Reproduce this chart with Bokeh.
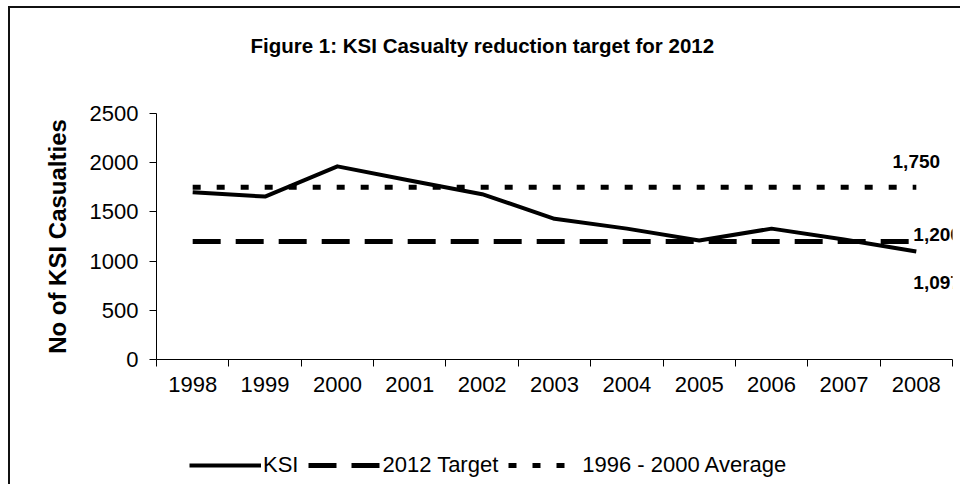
from bokeh.plotting import figure
from bokeh.layouts import column
from bokeh.models import Range1d, FixedTicker, Legend, LegendItem, Label
from bokeh.embed import file_html
from bokeh.resources import INLINE
from bokeh.core.properties import value

# ---- data ----
years = ["1998", "1999", "2000", "2001", "2002", "2003", "2004", "2005", "2006", "2007", "2008"]
ksi = [1700, 1656, 1963, 1820, 1680, 1430, 1330, 1210, 1330, 1220, 1097]
target_2012 = [1200, 1200, 1200, 1200, 1200, 1200, 1200, 1200, 1200, 1200, 1200]
avg_1996_2000 = [1750, 1750, 1750, 1750, 1750, 1750, 1750, 1750, 1750, 1750, 1750]
y_ticks = [0, 500, 1000, 1500, 2000, 2500]
title_text = "Figure 1: KSI Casualty reduction target for 2012"
y_label = "No of KSI Casualties"
series_names = ["KSI", "2012 Target", "1996 - 2000 Average"]

FONT = "Liberation Sans"
xs = [i + 0.5 for i in range(len(years))]
boundaries = [i for i in range(len(years) + 1)]

# styles of the three series (shared by chart and legend)
ksi_style = dict(line_color="black", line_width=4, line_join="round")
tgt_style = dict(line_color="black", line_width=5, line_dash="28 15")
avg_style = dict(line_color="black", line_width=5, line_dash="8 16")


def strip(height, styles):
    f = figure(width=952, height=height, x_range=Range1d(0, 1), y_range=Range1d(0, 1),
               x_axis_type=None, y_axis_type=None,
               output_backend="svg", toolbar_location=None,
               min_border_left=0, min_border_right=0, min_border_top=0, min_border_bottom=0)
    f.outline_line_color = None
    f.xgrid.visible = False
    f.ygrid.visible = False
    f.background_fill_color = "white"
    f.border_fill_color = "white"
    f.styles = styles
    return f


# ---- title strip ----
tf = strip(70, {"border-left": "2px solid #111", "border-top": "2px solid #111"})
tf.add_layout(Label(x=94, y=33, x_units="screen", y_units="screen", text=title_text,
                    text_align="left", text_baseline="middle", text_font=FONT,
                    text_font_size="20.5px", text_font_style="bold", text_color="black"))

# ---- main chart ----
p = figure(width=952, height=342,
           x_range=Range1d(0, len(years)), y_range=Range1d(0, 2500),
           output_backend="svg", toolbar_location=None,
           min_border_left=146, min_border_right=10,
           min_border_top=37, min_border_bottom=59)
p.outline_line_color = None
p.xgrid.visible = False
p.ygrid.visible = False
p.background_fill_color = "white"
p.border_fill_color = "white"
p.styles = {"border-left": "2px solid #111"}

# x axis: labels at category centres, tick marks at boundaries
xa = p.xaxis[0]
xa.ticker = FixedTicker(ticks=xs, minor_ticks=boundaries)
xa.major_label_overrides = {x: y for x, y in zip(xs, years)}
xa.major_tick_line_color = None
xa.minor_tick_line_color = "black"
xa.minor_tick_in = 0
xa.minor_tick_out = 7
xa.axis_line_color = "black"
xa.major_label_text_font = FONT
xa.major_label_text_font_size = "22px"
xa.major_label_text_color = "black"
xa.major_label_standoff = 10

ya = p.yaxis[0]
ya.ticker = FixedTicker(ticks=y_ticks, minor_ticks=[])
ya.major_tick_in = 0
ya.major_tick_out = 7
ya.major_tick_line_color = "black"
ya.axis_line_color = "black"
ya.major_label_text_font = FONT
ya.major_label_text_font_size = "22px"
ya.major_label_text_color = "black"
ya.major_label_standoff = 11
ya.axis_label = y_label
ya.axis_label_text_font = FONT
ya.axis_label_text_font_size = "24px"
ya.axis_label_text_font_style = "bold"
ya.axis_label_text_color = "black"
ya.axis_label_standoff = 16

p.line(xs, ksi, **ksi_style)
p.line(xs, target_2012, **tgt_style)
p.line(xs, avg_1996_2000, **avg_style)

# data labels at the last point of each series
lbl_common = dict(text_font=value(FONT), text_font_size="19px", text_font_style="bold", text_color="black")
p.text(x=[xs[-1]], y=[avg_1996_2000[-1]], text=[f"{avg_1996_2000[-1]:,}"],
       text_align="center", text_baseline="alphabetic", y_offset=-26, **lbl_common)
p.text(x=[xs[-1]], y=[target_2012[-1]], text=[f"{target_2012[-1]:,}"],
       text_align="left", text_baseline="alphabetic", x_offset=-3, y_offset=-7, **lbl_common)
p.text(x=[xs[-1]], y=[ksi[-1]], text=[f"{ksi[-1]:,}"],
       text_align="left", text_baseline="alphabetic", x_offset=-3, y_offset=31, **lbl_common)

# ---- legend strip ----
lg = strip(66, {"border-left": "2px solid #111"})
nan = float("nan")
l1 = lg.line([nan], [nan], **ksi_style)
l2 = lg.line([nan], [nan], **tgt_style)
l3 = lg.line([nan], [nan], **avg_style)
legend = Legend(items=[LegendItem(label=series_names[0], renderers=[l1]),
                       LegendItem(label=series_names[1], renderers=[l2]),
                       LegendItem(label=series_names[2], renderers=[l3])],
                location=(33, 6), orientation="horizontal",
                glyph_width=72, glyph_height=24, label_height=24, label_standoff=2, spacing=10,
                padding=0, margin=0, border_line_color=None, background_fill_alpha=0,
                label_text_font=FONT, label_text_font_size="22px", label_text_color="black")
lg.add_layout(legend)

layout = column(tf, p, lg, spacing=0)
layout.margin = (6, 0, 0, 8)

open("out.html", "w").write(file_html(layout, INLINE))
